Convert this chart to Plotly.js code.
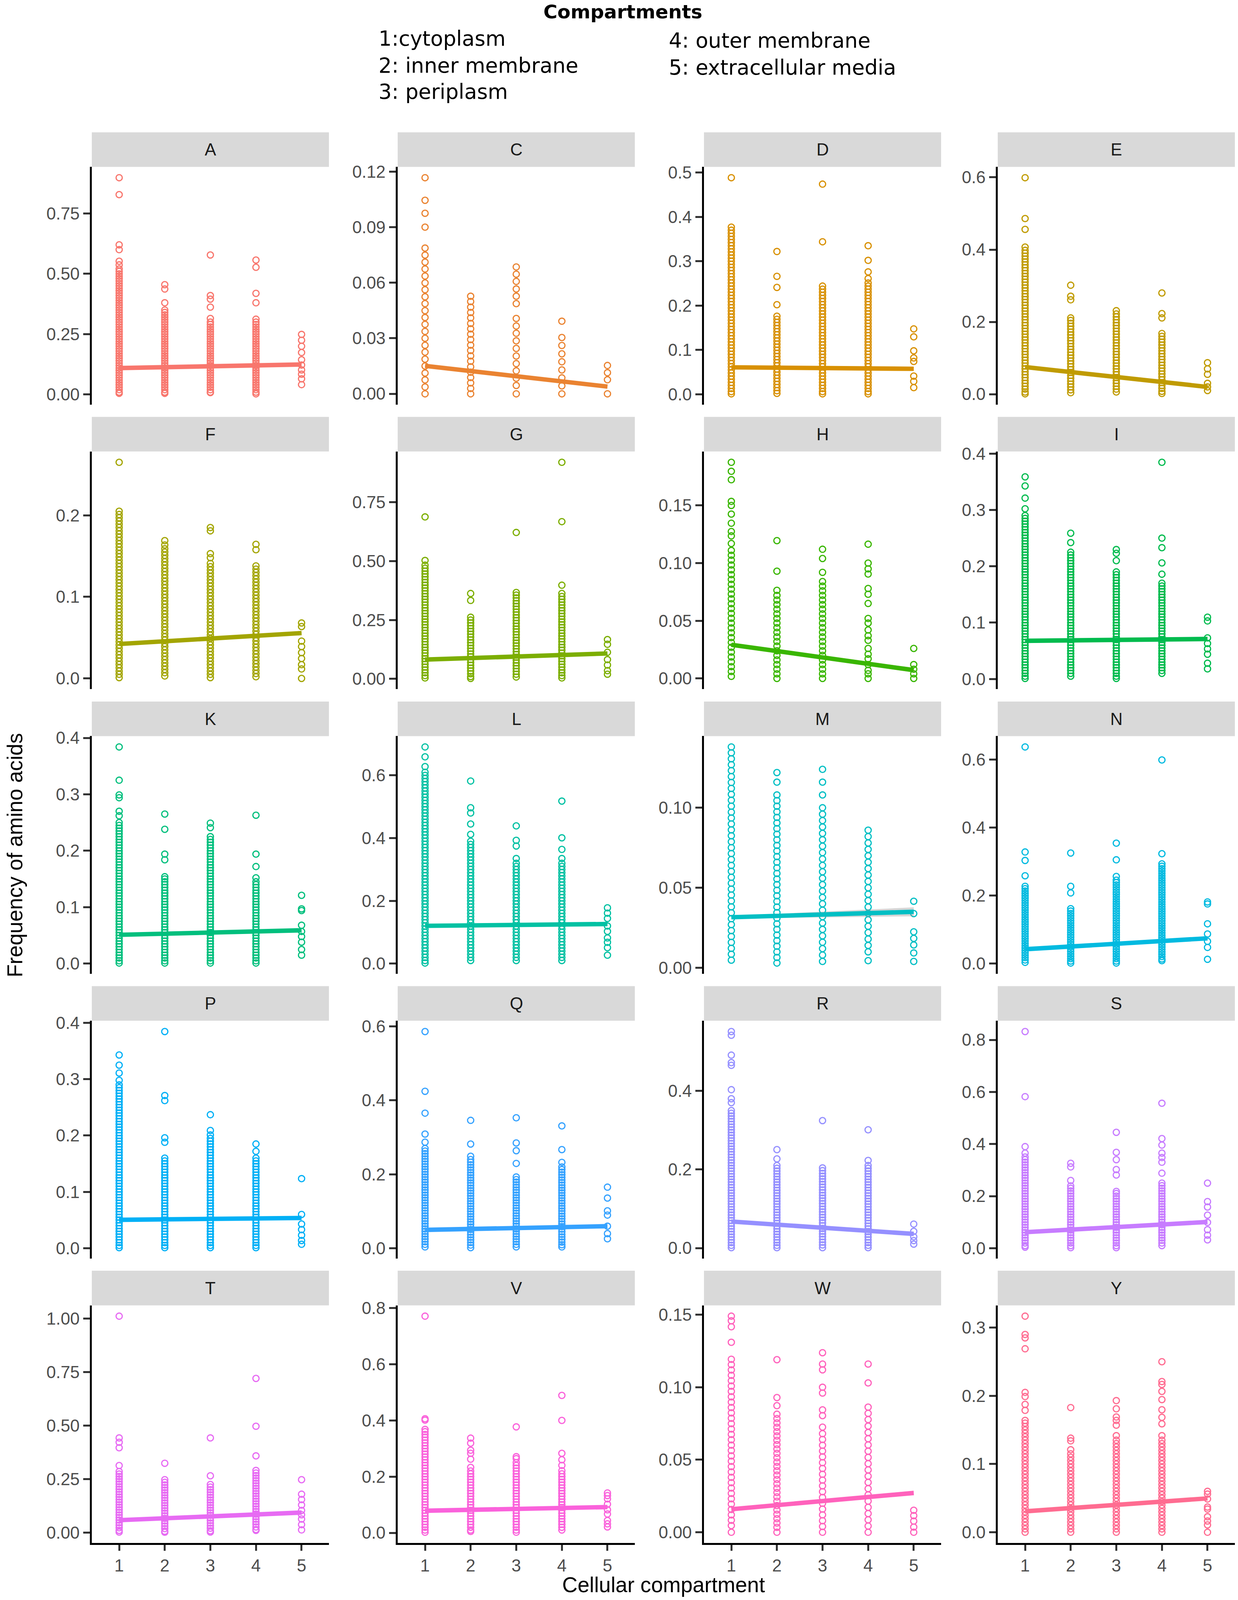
<!DOCTYPE html>
<html>
<head>
<meta charset="utf-8">
<script src="https://cdn.plot.ly/plotly-3.0.1.min.js"></script>
<style>html,body{margin:0;padding:0;background:#fff;overflow:hidden;}</style>
</head>
<body>
<div id="chart"></div>
<script>
// ---------- DATA ----------
const aminoAcids = ["A","C","D","E","F","G","H","I","K","L","M","N","P","Q","R","S","T","V","W","Y"];
const compartments = [1,2,3,4,5];
const xTickLabels = ["1","2","3","4","5"];
const legendTitle = "Compartments";
const legendItems = ["1:cytoplasm","2: inner membrane","3: periplasm","4: outer membrane","5: extracellular media"];
const xTitle = "Cellular compartment";
const yTitle = "Frequency of amino acids";

// frequency values per compartment (columns 1..5) for each amino acid
const aaA = [
  [0.898,0.828,0.62,0.60,0.552,0.537,0.52,0.51,0.50,0.49,0.48,0.47,0.46,0.45,0.44,0.43,0.42,0.41,0.40,0.39,0.38,0.37,0.36,0.35,0.34,0.33,0.32,0.31,0.30,0.29,0.28,0.27,0.26,0.25,0.24,0.23,0.22,0.21,0.20,0.19,0.18,0.17,0.16,0.15,0.14,0.13,0.12,0.11,0.10,0.09,0.08,0.07,0.06,0.05,0.04,0.03,0.02,0.01,0.005],
  [0.455,0.437,0.38,0.35,0.34,0.33,0.32,0.31,0.30,0.29,0.28,0.27,0.26,0.25,0.24,0.23,0.22,0.21,0.20,0.19,0.18,0.17,0.16,0.15,0.14,0.13,0.12,0.11,0.10,0.09,0.08,0.07,0.06,0.05,0.04,0.03,0.02,0.01,0.005],
  [0.578,0.41,0.395,0.362,0.315,0.30,0.29,0.28,0.27,0.26,0.25,0.24,0.23,0.22,0.21,0.20,0.19,0.18,0.17,0.16,0.15,0.14,0.13,0.12,0.11,0.10,0.09,0.08,0.07,0.06,0.05,0.04,0.03,0.02,0.01,0.008],
  [0.557,0.527,0.419,0.38,0.312,0.30,0.29,0.28,0.27,0.26,0.25,0.24,0.23,0.22,0.21,0.20,0.19,0.18,0.17,0.16,0.15,0.14,0.13,0.12,0.11,0.10,0.09,0.08,0.07,0.06,0.05,0.04,0.03,0.02,0.01,0.003],
  [0.249,0.225,0.20,0.174,0.144,0.122,0.102,0.084,0.065,0.041]
];
const aaC = [
  [0.1167,0.1045,0.0975,0.090,0.0787,0.0749,0.0711,0.0674,0.0636,0.0599,0.0562,0.0524,0.0487,0.0449,0.0412,0.0375,0.0337,0.0300,0.0262,0.0225,0.0187,0.0150,0.0112,0.0075,0.0037,0],
  [0.0527,0.0498,0.0468,0.0439,0.0410,0.0380,0.0351,0.0322,0.0293,0.0263,0.0234,0.0205,0.0176,0.0146,0.0117,0.0088,0.0059,0.0029,0],
  [0.0685,0.0646,0.0607,0.0566,0.0527,0.0487,0.0407,0.0366,0.0327,0.0286,0.0245,0.0204,0.0163,0.0124,0.0084,0.0045,0],
  [0.0392,0.0304,0.0261,0.0216,0.0173,0.0129,0.0086,0.0043,0],
  [0.0153,0.0114,0.0076,0]
];
const aaD = [
  [0.4885,0.377,0.370,0.363,0.356,0.349,0.342,0.335,0.328,0.321,0.314,0.307,0.300,0.293,0.286,0.279,0.272,0.265,0.258,0.251,0.244,0.237,0.230,0.223,0.216,0.209,0.202,0.195,0.188,0.181,0.174,0.167,0.160,0.153,0.146,0.139,0.132,0.125,0.118,0.111,0.104,0.097,0.090,0.083,0.076,0.069,0.062,0.055,0.048,0.041,0.034,0.027,0.020,0.013,0.006,0.001],
  [0.322,0.266,0.241,0.202,0.176,0.169,0.162,0.155,0.148,0.141,0.134,0.127,0.120,0.113,0.106,0.099,0.092,0.085,0.078,0.071,0.064,0.057,0.050,0.043,0.036,0.029,0.022,0.015,0.008,0.002],
  [0.474,0.344,0.244,0.237,0.230,0.223,0.216,0.209,0.202,0.195,0.188,0.181,0.174,0.167,0.160,0.153,0.146,0.139,0.132,0.125,0.118,0.111,0.104,0.097,0.090,0.083,0.076,0.069,0.062,0.055,0.048,0.041,0.034,0.027,0.020,0.013,0.006,0.001],
  [0.335,0.302,0.276,0.261,0.251,0.244,0.237,0.230,0.223,0.216,0.209,0.202,0.195,0.188,0.181,0.174,0.167,0.160,0.153,0.146,0.139,0.132,0.125,0.118,0.111,0.104,0.097,0.090,0.083,0.076,0.069,0.062,0.055,0.048,0.041,0.034,0.027,0.020,0.013,0.006,0.001],
  [0.1475,0.1295,0.098,0.082,0.074,0.041,0.029,0.015]
];
const aaE = [
  [0.599,0.486,0.456,0.407,0.398,0.390,0.382,0.374,0.366,0.358,0.350,0.342,0.334,0.326,0.318,0.310,0.302,0.294,0.286,0.278,0.270,0.262,0.254,0.246,0.238,0.230,0.222,0.214,0.206,0.198,0.190,0.182,0.174,0.166,0.158,0.150,0.142,0.134,0.126,0.118,0.110,0.102,0.094,0.086,0.078,0.070,0.062,0.054,0.046,0.038,0.030,0.022,0.014,0.006,0.001],
  [0.3015,0.271,0.261,0.211,0.204,0.196,0.188,0.180,0.172,0.164,0.156,0.148,0.140,0.132,0.124,0.116,0.108,0.100,0.092,0.084,0.076,0.068,0.060,0.052,0.044,0.036,0.028,0.020,0.012,0.004],
  [0.231,0.222,0.214,0.206,0.198,0.190,0.182,0.174,0.166,0.158,0.150,0.142,0.134,0.126,0.118,0.110,0.102,0.094,0.086,0.078,0.070,0.062,0.054,0.046,0.038,0.030,0.022,0.014,0.006],
  [0.280,0.223,0.211,0.168,0.160,0.152,0.144,0.136,0.128,0.120,0.112,0.104,0.096,0.088,0.080,0.072,0.064,0.056,0.048,0.040,0.032,0.024,0.016,0.008,0.002],
  [0.087,0.070,0.055,0.030,0.020,0.010]
];
const aaF = [
  [0.265,0.205,0.201,0.197,0.193,0.189,0.185,0.181,0.177,0.173,0.169,0.165,0.161,0.157,0.153,0.149,0.145,0.141,0.137,0.133,0.129,0.125,0.121,0.117,0.113,0.109,0.105,0.101,0.097,0.093,0.089,0.085,0.081,0.077,0.073,0.069,0.065,0.061,0.057,0.053,0.049,0.045,0.041,0.037,0.033,0.029,0.025,0.021,0.017,0.013,0.009,0.005,0.001],
  [0.169,0.1636,0.159,0.155,0.151,0.147,0.143,0.139,0.135,0.131,0.127,0.123,0.119,0.115,0.111,0.107,0.103,0.099,0.095,0.091,0.087,0.083,0.079,0.075,0.071,0.067,0.063,0.059,0.055,0.051,0.047,0.043,0.039,0.035,0.031,0.027,0.023,0.019,0.015,0.011,0.007,0.003],
  [0.185,0.181,0.153,0.148,0.141,0.137,0.133,0.129,0.125,0.121,0.117,0.113,0.109,0.105,0.101,0.097,0.093,0.089,0.085,0.081,0.077,0.073,0.069,0.065,0.061,0.057,0.053,0.049,0.045,0.041,0.037,0.033,0.029,0.025,0.021,0.017,0.013,0.009,0.005,0.001],
  [0.1644,0.1578,0.138,0.134,0.130,0.126,0.122,0.118,0.114,0.110,0.106,0.102,0.098,0.094,0.090,0.086,0.082,0.078,0.074,0.070,0.066,0.062,0.058,0.054,0.050,0.046,0.042,0.038,0.034,0.030,0.026,0.022,0.018,0.014,0.010,0.006,0.002],
  [0.068,0.0636,0.0458,0.039,0.0316,0.0244,0.0169,0.0116,0]
];
const aaG = [
  [0.688,0.503,0.483,0.470,0.458,0.446,0.434,0.422,0.410,0.398,0.386,0.374,0.362,0.350,0.338,0.326,0.314,0.302,0.290,0.278,0.266,0.254,0.242,0.230,0.218,0.206,0.194,0.182,0.170,0.158,0.146,0.134,0.122,0.110,0.098,0.086,0.074,0.062,0.050,0.038,0.026,0.014,0.004],
  [0.3627,0.3333,0.262,0.250,0.238,0.226,0.214,0.202,0.190,0.178,0.166,0.154,0.142,0.130,0.118,0.106,0.094,0.082,0.070,0.058,0.046,0.034,0.022,0.010,0.002],
  [0.622,0.367,0.356,0.344,0.332,0.320,0.308,0.296,0.284,0.272,0.260,0.248,0.236,0.224,0.212,0.200,0.188,0.176,0.164,0.152,0.140,0.128,0.116,0.104,0.092,0.080,0.068,0.056,0.044,0.032,0.020,0.008],
  [0.92,0.668,0.398,0.363,0.350,0.338,0.326,0.314,0.302,0.290,0.278,0.266,0.254,0.242,0.230,0.218,0.206,0.194,0.182,0.170,0.158,0.146,0.134,0.122,0.110,0.098,0.086,0.074,0.062,0.050,0.038,0.026,0.014,0.004],
  [0.167,0.147,0.113,0.082,0.059,0.035,0.02]
];
const aaH = [
  [0.1874,0.1796,0.1723,0.1535,0.150,0.1425,0.1346,0.1274,0.1236,0.117,0.111,0.1068,0.1026,0.0984,0.0942,0.09,0.0858,0.0816,0.0774,0.0732,0.069,0.0648,0.0606,0.0564,0.0522,0.048,0.0438,0.0396,0.0354,0.0312,0.027,0.0228,0.0186,0.0144,0.0102,0.006,0.0018],
  [0.1195,0.093,0.0764,0.072,0.068,0.064,0.060,0.056,0.052,0.048,0.044,0.040,0.036,0.032,0.028,0.024,0.020,0.016,0.012,0.008,0.004,0],
  [0.112,0.104,0.092,0.084,0.080,0.076,0.072,0.068,0.064,0.060,0.056,0.052,0.048,0.044,0.040,0.036,0.032,0.028,0.024,0.020,0.016,0.012,0.008,0.004,0],
  [0.1164,0.100,0.095,0.0905,0.078,0.073,0.065,0.052,0.048,0.042,0.037,0.033,0.026,0.021,0.017,0.012,0.007,0.004,0],
  [0.026,0.012,0.008,0.004,0]
];
const aaI = [
  [0.3587,0.3426,0.321,0.302,0.290,0.285,0.280,0.275,0.270,0.265,0.260,0.255,0.250,0.245,0.240,0.235,0.230,0.225,0.220,0.215,0.210,0.205,0.200,0.195,0.190,0.185,0.180,0.175,0.170,0.165,0.160,0.155,0.150,0.145,0.140,0.135,0.130,0.125,0.120,0.115,0.110,0.105,0.100,0.095,0.090,0.085,0.080,0.075,0.070,0.065,0.060,0.055,0.050,0.045,0.040,0.035,0.030,0.025,0.020,0.015,0.010,0.005,0.001],
  [0.2587,0.242,0.225,0.220,0.215,0.210,0.205,0.200,0.195,0.190,0.185,0.180,0.175,0.170,0.165,0.160,0.155,0.150,0.145,0.140,0.135,0.130,0.125,0.120,0.115,0.110,0.105,0.100,0.095,0.090,0.085,0.080,0.075,0.070,0.065,0.060,0.055,0.050,0.045,0.040,0.035,0.030,0.025,0.020,0.015,0.010,0.005],
  [0.2297,0.223,0.210,0.190,0.185,0.180,0.175,0.170,0.165,0.160,0.155,0.150,0.145,0.140,0.135,0.130,0.125,0.120,0.115,0.110,0.105,0.100,0.095,0.090,0.085,0.080,0.075,0.070,0.065,0.060,0.055,0.050,0.045,0.040,0.035,0.030,0.025,0.020,0.015,0.010,0.005,0.001],
  [0.3845,0.250,0.233,0.206,0.186,0.170,0.165,0.160,0.155,0.150,0.145,0.140,0.135,0.130,0.125,0.120,0.115,0.110,0.105,0.100,0.095,0.090,0.085,0.080,0.075,0.070,0.065,0.060,0.055,0.050,0.045,0.040,0.035,0.030,0.025,0.020,0.015,0.010],
  [0.1097,0.103,0.073,0.063,0.0535,0.044,0.028,0.018]
];
const aaK = [
  [0.384,0.325,0.299,0.294,0.270,0.262,0.250,0.245,0.240,0.235,0.230,0.225,0.220,0.215,0.210,0.205,0.200,0.195,0.190,0.185,0.180,0.175,0.170,0.165,0.160,0.155,0.150,0.145,0.140,0.135,0.130,0.125,0.120,0.115,0.110,0.105,0.100,0.095,0.090,0.085,0.080,0.075,0.070,0.065,0.060,0.055,0.050,0.045,0.040,0.035,0.030,0.025,0.020,0.015,0.010,0.005,0.001],
  [0.265,0.238,0.194,0.184,0.154,0.150,0.145,0.140,0.135,0.130,0.125,0.120,0.115,0.110,0.105,0.100,0.095,0.090,0.085,0.080,0.075,0.070,0.065,0.060,0.055,0.050,0.045,0.040,0.035,0.030,0.025,0.020,0.015,0.010,0.005,0.001],
  [0.249,0.241,0.225,0.220,0.215,0.210,0.205,0.200,0.195,0.190,0.185,0.180,0.175,0.170,0.165,0.160,0.155,0.150,0.145,0.140,0.135,0.130,0.125,0.120,0.115,0.110,0.105,0.100,0.095,0.090,0.085,0.080,0.075,0.070,0.065,0.060,0.055,0.050,0.045,0.040,0.035,0.030,0.025,0.020,0.015,0.010,0.005,0.001],
  [0.263,0.194,0.172,0.152,0.145,0.140,0.135,0.130,0.125,0.120,0.115,0.110,0.105,0.100,0.095,0.090,0.085,0.080,0.075,0.070,0.065,0.060,0.055,0.050,0.045,0.040,0.035,0.030,0.025,0.020,0.015,0.010,0.005,0.001],
  [0.121,0.097,0.094,0.068,0.057,0.048,0.038,0.025,0.015]
];
const aaL = [
  [0.6906,0.659,0.628,0.61,0.60,0.59,0.58,0.57,0.56,0.55,0.54,0.53,0.52,0.51,0.50,0.49,0.48,0.47,0.46,0.45,0.44,0.43,0.42,0.41,0.40,0.39,0.38,0.37,0.36,0.35,0.34,0.33,0.32,0.31,0.30,0.29,0.28,0.27,0.26,0.25,0.24,0.23,0.22,0.21,0.20,0.19,0.18,0.17,0.16,0.15,0.14,0.13,0.12,0.11,0.10,0.09,0.08,0.07,0.06,0.05,0.04,0.03,0.02,0.01,0.002],
  [0.582,0.497,0.480,0.445,0.412,0.39,0.38,0.37,0.36,0.35,0.34,0.33,0.32,0.31,0.30,0.29,0.28,0.27,0.26,0.25,0.24,0.23,0.22,0.21,0.20,0.19,0.18,0.17,0.16,0.15,0.14,0.13,0.12,0.11,0.10,0.09,0.08,0.07,0.06,0.05,0.04,0.03,0.02,0.01],
  [0.439,0.393,0.375,0.335,0.32,0.31,0.30,0.29,0.28,0.27,0.26,0.25,0.24,0.23,0.22,0.21,0.20,0.19,0.18,0.17,0.16,0.15,0.14,0.13,0.12,0.11,0.10,0.09,0.08,0.07,0.06,0.05,0.04,0.03,0.02,0.01],
  [0.518,0.401,0.364,0.335,0.32,0.31,0.30,0.29,0.28,0.27,0.26,0.25,0.24,0.23,0.22,0.21,0.20,0.19,0.18,0.17,0.16,0.15,0.14,0.13,0.12,0.11,0.10,0.09,0.08,0.07,0.06,0.05,0.04,0.03,0.02,0.01],
  [0.178,0.161,0.144,0.120,0.103,0.082,0.068,0.051,0.027]
];
const aaM = [
  [0.138,0.1343,0.1306,0.1269,0.1232,0.1195,0.1158,0.1121,0.1084,0.1047,0.101,0.0973,0.0936,0.0899,0.0862,0.0825,0.0788,0.0751,0.0714,0.0677,0.064,0.0603,0.0566,0.0529,0.0492,0.0455,0.0418,0.0381,0.0344,0.0307,0.027,0.0233,0.0196,0.0159,0.0122,0.0085,0.0048],
  [0.122,0.116,0.108,0.1045,0.101,0.0975,0.094,0.0905,0.087,0.0835,0.080,0.0765,0.073,0.0695,0.066,0.0625,0.059,0.0555,0.052,0.0485,0.045,0.0415,0.038,0.0345,0.031,0.0275,0.024,0.0205,0.017,0.0135,0.010,0.0065,0.003],
  [0.124,0.116,0.108,0.100,0.096,0.092,0.088,0.084,0.080,0.076,0.072,0.068,0.064,0.060,0.056,0.052,0.048,0.044,0.040,0.036,0.032,0.028,0.024,0.020,0.016,0.012,0.008,0.004],
  [0.086,0.082,0.078,0.074,0.070,0.066,0.062,0.058,0.054,0.050,0.046,0.042,0.038,0.034,0.030,0.026,0.022,0.018,0.014,0.010,0.0045],
  [0.0416,0.0339,0.0225,0.0184,0.0143,0.0093,0.004]
];
const aaN = [
  [0.6374,0.328,0.303,0.258,0.227,0.220,0.213,0.206,0.199,0.192,0.185,0.178,0.171,0.164,0.157,0.150,0.143,0.136,0.129,0.122,0.115,0.108,0.101,0.094,0.087,0.080,0.073,0.066,0.059,0.052,0.045,0.038,0.031,0.024,0.017,0.010,0.003],
  [0.325,0.227,0.2075,0.161,0.154,0.147,0.140,0.133,0.126,0.119,0.112,0.105,0.098,0.091,0.084,0.077,0.070,0.063,0.056,0.049,0.042,0.035,0.028,0.021,0.014,0.007,0.001],
  [0.354,0.305,0.256,0.245,0.238,0.231,0.224,0.217,0.210,0.203,0.196,0.189,0.182,0.175,0.168,0.161,0.154,0.147,0.140,0.133,0.126,0.119,0.112,0.105,0.098,0.091,0.084,0.077,0.070,0.063,0.056,0.049,0.042,0.035,0.028,0.021,0.014,0.007,0.001],
  [0.599,0.323,0.293,0.286,0.279,0.272,0.265,0.258,0.251,0.244,0.237,0.230,0.223,0.216,0.209,0.202,0.195,0.188,0.181,0.174,0.167,0.160,0.153,0.146,0.139,0.132,0.125,0.118,0.111,0.104,0.097,0.090,0.083,0.076,0.069,0.062,0.055,0.048,0.041,0.034,0.027,0.020,0.013,0.008],
  [0.181,0.175,0.1166,0.0866,0.065,0.047,0.012]
];
const aaP = [
  [0.343,0.325,0.311,0.298,0.290,0.285,0.280,0.275,0.270,0.265,0.260,0.255,0.250,0.245,0.240,0.235,0.230,0.225,0.220,0.215,0.210,0.205,0.200,0.195,0.190,0.185,0.180,0.175,0.170,0.165,0.160,0.155,0.150,0.145,0.140,0.135,0.130,0.125,0.120,0.115,0.110,0.105,0.100,0.095,0.090,0.085,0.080,0.075,0.070,0.065,0.060,0.055,0.050,0.045,0.040,0.035,0.030,0.025,0.020,0.015,0.010,0.005,0.001],
  [0.3846,0.271,0.262,0.196,0.188,0.160,0.155,0.150,0.145,0.140,0.135,0.130,0.125,0.120,0.115,0.110,0.105,0.100,0.095,0.090,0.085,0.080,0.075,0.070,0.065,0.060,0.055,0.050,0.045,0.040,0.035,0.030,0.025,0.020,0.015,0.010,0.005,0.001],
  [0.237,0.209,0.201,0.195,0.190,0.185,0.180,0.175,0.170,0.165,0.160,0.155,0.150,0.145,0.140,0.135,0.130,0.125,0.120,0.115,0.110,0.105,0.100,0.095,0.090,0.085,0.080,0.075,0.070,0.065,0.060,0.055,0.050,0.045,0.040,0.035,0.030,0.025,0.020,0.015,0.010,0.005,0.001],
  [0.185,0.172,0.160,0.155,0.150,0.145,0.140,0.135,0.130,0.125,0.120,0.115,0.110,0.105,0.100,0.095,0.090,0.085,0.080,0.075,0.070,0.065,0.060,0.055,0.050,0.045,0.040,0.035,0.030,0.025,0.020,0.015,0.010,0.005,0.001],
  [0.1235,0.060,0.043,0.033,0.023,0.0136,0.007]
];
const aaQ = [
  [0.586,0.4246,0.3655,0.309,0.287,0.270,0.263,0.256,0.249,0.242,0.235,0.228,0.221,0.214,0.207,0.200,0.193,0.186,0.179,0.172,0.165,0.158,0.151,0.144,0.137,0.130,0.123,0.116,0.109,0.102,0.095,0.088,0.081,0.074,0.067,0.060,0.053,0.046,0.039,0.032,0.025,0.018,0.011,0.004],
  [0.346,0.282,0.249,0.240,0.233,0.226,0.219,0.212,0.205,0.198,0.191,0.184,0.177,0.170,0.163,0.156,0.149,0.142,0.135,0.128,0.121,0.114,0.107,0.100,0.093,0.086,0.079,0.072,0.065,0.058,0.051,0.044,0.037,0.030,0.023,0.016,0.009,0.002],
  [0.353,0.285,0.264,0.2296,0.193,0.186,0.179,0.172,0.165,0.158,0.151,0.144,0.137,0.130,0.123,0.116,0.109,0.102,0.095,0.088,0.081,0.074,0.067,0.060,0.053,0.046,0.039,0.032,0.025,0.018,0.011,0.004],
  [0.331,0.267,0.2325,0.220,0.213,0.206,0.199,0.192,0.185,0.178,0.171,0.164,0.157,0.150,0.143,0.136,0.129,0.122,0.115,0.108,0.101,0.094,0.087,0.080,0.073,0.066,0.059,0.052,0.045,0.038,0.031,0.024,0.017,0.010,0.004],
  [0.1655,0.136,0.1015,0.090,0.060,0.040,0.026]
];
const aaR = [
  [0.551,0.5416,0.491,0.472,0.465,0.403,0.380,0.370,0.350,0.343,0.336,0.329,0.322,0.315,0.308,0.301,0.294,0.287,0.280,0.273,0.266,0.259,0.252,0.245,0.238,0.231,0.224,0.217,0.210,0.203,0.196,0.189,0.182,0.175,0.168,0.161,0.154,0.147,0.140,0.133,0.126,0.119,0.112,0.105,0.098,0.091,0.084,0.077,0.070,0.063,0.056,0.049,0.042,0.035,0.028,0.021,0.014,0.007,0.001],
  [0.2505,0.227,0.210,0.203,0.196,0.189,0.182,0.175,0.168,0.161,0.154,0.147,0.140,0.133,0.126,0.119,0.112,0.105,0.098,0.091,0.084,0.077,0.070,0.063,0.056,0.049,0.042,0.035,0.028,0.021,0.014,0.007,0.001],
  [0.3244,0.204,0.197,0.190,0.183,0.176,0.169,0.162,0.155,0.148,0.141,0.134,0.127,0.120,0.113,0.106,0.099,0.092,0.085,0.078,0.071,0.064,0.057,0.050,0.043,0.036,0.029,0.022,0.015,0.008,0.001],
  [0.301,0.223,0.210,0.203,0.196,0.189,0.182,0.175,0.168,0.161,0.154,0.147,0.140,0.133,0.126,0.119,0.112,0.105,0.098,0.091,0.084,0.077,0.070,0.063,0.056,0.049,0.042,0.035,0.028,0.021,0.014,0.007,0.001],
  [0.061,0.0425,0.0287,0.019,0.010]
];
const aaS = [
  [0.832,0.582,0.390,0.365,0.35,0.34,0.33,0.32,0.31,0.30,0.29,0.28,0.27,0.26,0.25,0.24,0.23,0.22,0.21,0.20,0.19,0.18,0.17,0.16,0.15,0.14,0.13,0.12,0.11,0.10,0.09,0.08,0.07,0.06,0.05,0.04,0.03,0.02,0.01,0.004],
  [0.326,0.312,0.260,0.239,0.23,0.22,0.21,0.20,0.19,0.18,0.17,0.16,0.15,0.14,0.13,0.12,0.11,0.10,0.09,0.08,0.07,0.06,0.05,0.04,0.03,0.02,0.01,0.002],
  [0.445,0.368,0.340,0.302,0.281,0.218,0.21,0.20,0.19,0.18,0.17,0.16,0.15,0.14,0.13,0.12,0.11,0.10,0.09,0.08,0.07,0.06,0.05,0.04,0.03,0.02,0.01,0.002],
  [0.5566,0.421,0.396,0.365,0.348,0.330,0.288,0.25,0.24,0.23,0.22,0.21,0.20,0.19,0.18,0.17,0.16,0.15,0.14,0.13,0.12,0.11,0.10,0.09,0.08,0.07,0.06,0.05,0.04,0.03,0.02,0.01],
  [0.250,0.179,0.158,0.127,0.099,0.071,0.050,0.032]
];
const aaT = [
  [1.011,0.442,0.4216,0.396,0.313,0.285,0.273,0.262,0.250,0.238,0.226,0.214,0.202,0.190,0.178,0.166,0.154,0.142,0.130,0.118,0.106,0.094,0.082,0.070,0.058,0.046,0.034,0.022,0.010,0.002],
  [0.3236,0.2467,0.2345,0.222,0.210,0.198,0.186,0.174,0.162,0.150,0.138,0.126,0.114,0.102,0.090,0.078,0.066,0.054,0.042,0.030,0.018,0.006,0.001],
  [0.442,0.265,0.2245,0.212,0.200,0.188,0.176,0.164,0.152,0.140,0.128,0.116,0.104,0.092,0.080,0.068,0.056,0.044,0.032,0.020,0.008,0.002],
  [0.720,0.4965,0.358,0.290,0.278,0.266,0.254,0.242,0.230,0.218,0.206,0.194,0.182,0.170,0.158,0.146,0.134,0.122,0.110,0.098,0.086,0.074,0.062,0.050,0.038,0.026,0.014,0.010],
  [0.2467,0.179,0.154,0.1284,0.103,0.083,0.063,0.037,0.012]
];
const aaV = [
  [0.771,0.406,0.401,0.368,0.36,0.35,0.34,0.33,0.32,0.31,0.30,0.29,0.28,0.27,0.26,0.25,0.24,0.23,0.22,0.21,0.20,0.19,0.18,0.17,0.16,0.15,0.14,0.13,0.12,0.11,0.10,0.09,0.08,0.07,0.06,0.05,0.04,0.03,0.02,0.01,0.002],
  [0.337,0.319,0.294,0.283,0.262,0.233,0.22,0.21,0.20,0.19,0.18,0.17,0.16,0.15,0.14,0.13,0.12,0.11,0.10,0.09,0.08,0.07,0.06,0.05,0.04,0.03,0.02,0.01,0.005],
  [0.377,0.271,0.264,0.25,0.24,0.23,0.22,0.21,0.20,0.19,0.18,0.17,0.16,0.15,0.14,0.13,0.12,0.11,0.10,0.09,0.08,0.07,0.06,0.05,0.04,0.03,0.02,0.01,0.002],
  [0.489,0.400,0.283,0.260,0.240,0.221,0.21,0.20,0.19,0.18,0.17,0.16,0.15,0.14,0.13,0.12,0.11,0.10,0.09,0.08,0.07,0.06,0.05,0.04,0.03,0.02,0.01],
  [0.142,0.1326,0.121,0.102,0.082,0.067,0.044,0.032,0.021]
];
const aaW = [
  [0.149,0.1458,0.1417,0.131,0.1193,0.1156,0.1119,0.1082,0.1045,0.1008,0.0971,0.0934,0.0897,0.086,0.0823,0.0786,0.0749,0.0712,0.0675,0.0638,0.0601,0.0564,0.0527,0.049,0.0453,0.0416,0.0379,0.0342,0.0305,0.0268,0.0231,0.0194,0.0157,0.012,0.0083,0.0046,0],
  [0.119,0.0929,0.0873,0.0814,0.0784,0.0754,0.0724,0.0694,0.0664,0.0634,0.0604,0.0574,0.0544,0.0514,0.0484,0.0454,0.0424,0.0394,0.0364,0.0334,0.0304,0.0274,0.0244,0.0214,0.0184,0.0154,0.0124,0.0094,0.0064,0.0034,0],
  [0.1238,0.116,0.112,0.100,0.096,0.0844,0.0804,0.0725,0.068,0.064,0.060,0.056,0.052,0.048,0.044,0.040,0.036,0.032,0.028,0.024,0.020,0.016,0.012,0.008,0.004,0],
  [0.116,0.103,0.0863,0.082,0.0777,0.0732,0.0688,0.0645,0.0602,0.0559,0.0516,0.0473,0.043,0.0387,0.0344,0.0301,0.0258,0.0215,0.0172,0.0129,0.0086,0.0043,0],
  [0.0152,0.0115,0.0077,0.0036,0]
];
const aaY = [
  [0.3168,0.290,0.285,0.269,0.205,0.199,0.1875,0.1787,0.164,0.160,0.155,0.150,0.145,0.140,0.135,0.130,0.125,0.120,0.115,0.110,0.105,0.100,0.095,0.090,0.085,0.080,0.075,0.070,0.065,0.060,0.055,0.050,0.045,0.040,0.035,0.030,0.025,0.020,0.015,0.010,0.005,0],
  [0.1828,0.138,0.134,0.121,0.115,0.110,0.105,0.100,0.095,0.090,0.085,0.080,0.075,0.070,0.065,0.060,0.055,0.050,0.045,0.040,0.035,0.030,0.025,0.020,0.015,0.010,0.005,0],
  [0.193,0.181,0.169,0.164,0.157,0.1416,0.135,0.130,0.125,0.120,0.115,0.110,0.105,0.100,0.095,0.090,0.085,0.080,0.075,0.070,0.065,0.060,0.055,0.050,0.045,0.040,0.035,0.030,0.025,0.020,0.015,0.010,0.005,0],
  [0.250,0.221,0.2167,0.2065,0.1945,0.1796,0.1685,0.159,0.1416,0.135,0.130,0.125,0.120,0.115,0.110,0.105,0.100,0.095,0.090,0.085,0.080,0.075,0.070,0.065,0.060,0.055,0.050,0.045,0.040,0.035,0.030,0.025,0.020,0.015,0.010,0.005,0],
  [0.060,0.056,0.0488,0.037,0.034,0.0228,0.0165,0.0108,0]
];

// linear fit values at compartment 1 and compartment 5
const fitStart = [0.1095,0.0151,0.0607,0.075,0.0422,0.082,0.0292,0.0677,0.051,0.1205,0.0316,0.0417,0.0504,0.050,0.0675,0.0615,0.0576,0.0786,0.0159,0.0307];
const fitEnd   = [0.1245,0.0039,0.0574,0.020,0.0556,0.108,0.0072,0.071,0.059,0.1263,0.035,0.0738,0.0537,0.060,0.036,0.1007,0.093,0.0917,0.0271,0.0497];
// half-width of the fit's confidence band at compartment 1 and compartment 5
const bandStart = [0.002,0.0005,0.001,0.002,0.001,0.002,0.0008,0.001,0.001,0.002,0.0008,0.002,0.001,0.002,0.002,0.003,0.003,0.002,0.0006,0.001];
const bandEnd   = [0.004,0.001,0.003,0.004,0.002,0.006,0.002,0.003,0.002,0.006,0.0028,0.004,0.002,0.003,0.003,0.006,0.006,0.005,0.0015,0.002];

// y tick labels per panel
const yTickLabels = [
  ["0.00","0.25","0.50","0.75"],
  ["0.00","0.03","0.06","0.09","0.12"],
  ["0.0","0.1","0.2","0.3","0.4","0.5"],
  ["0.0","0.2","0.4","0.6"],
  ["0.0","0.1","0.2"],
  ["0.00","0.25","0.50","0.75"],
  ["0.00","0.05","0.10","0.15"],
  ["0.0","0.1","0.2","0.3","0.4"],
  ["0.0","0.1","0.2","0.3","0.4"],
  ["0.0","0.2","0.4","0.6"],
  ["0.00","0.05","0.10"],
  ["0.0","0.2","0.4","0.6"],
  ["0.0","0.1","0.2","0.3","0.4"],
  ["0.0","0.2","0.4","0.6"],
  ["0.0","0.2","0.4"],
  ["0.0","0.2","0.4","0.6","0.8"],
  ["0.00","0.25","0.50","0.75","1.00"],
  ["0.0","0.2","0.4","0.6","0.8"],
  ["0.00","0.05","0.10","0.15"],
  ["0.0","0.1","0.2","0.3"]
];

const panelValues = [aaA,aaC,aaD,aaE,aaF,aaG,aaH,aaI,aaK,aaL,aaM,aaN,aaP,aaQ,aaR,aaS,aaT,aaV,aaW,aaY];

// ---------- STYLE / LAYOUT ----------
const colors = ["#F8766D","#EA8331","#D89000","#C09B00","#A3A500","#7CAE00","#39B600","#00BB4E","#00BF7D","#00C1A3",
                "#00BFC4","#00BAE0","#00B0F6","#35A2FF","#9590FF","#C77CFF","#E76BF3","#FA62DB","#FF62BC","#FF6C91"];
// geometry measured on the 3169 x 4947 reference, rescaled to the actual viewport
const REF_W = 3169, REF_H = 4947;
const W = window.innerWidth || REF_W;
const H = window.innerHeight || REF_H;
const sx = W / REF_W, sy = H / REF_H;
const ms = Math.sqrt(sx * sy);   // marks
const ts = sy;                   // text
document.getElementById("chart").style.width = W + "px";
document.getElementById("chart").style.height = H + "px";

const colLeft = [235, 1018, 1802, 2554];
const panelW = 607;
const stripTops = [409, 1289, 2169, 3049, 3929];
const stripH = 107;
const panelH = 842;
const sansFam = "Liberation Sans, Arial, Helvetica, sans-serif";
const tickFont = {family: sansFam, size: 53 * ts, color: "#4D4D4D"};

const traces = [];
const layout = {
  width: W, height: H,
  margin: {l: 0, r: 0, t: 0, b: 0},
  paper_bgcolor: "#FFFFFF", plot_bgcolor: "rgba(0,0,0,0)",
  showlegend: false,
  shapes: [], annotations: []
};

aminoAcids.forEach((aa, i) => {
  const row = Math.floor(i / 4), col = i % 4;
  const n = i + 1;
  const xk = n === 1 ? "xaxis" : "xaxis" + n;
  const yk = n === 1 ? "yaxis" : "yaxis" + n;
  const xr = n === 1 ? "x" : "x" + n;
  const yr = n === 1 ? "y" : "y" + n;
  const vals = panelValues[i];
  const xs = [], ys = [];
  vals.forEach((colVals, k) => colVals.forEach(v => { xs.push(compartments[k]); ys.push(v); }));
  const allY = ys.concat([fitStart[i], fitEnd[i]]);
  const ymin = Math.min(...allY), ymax = Math.max(...allY);
  const pad = 0.05 * (ymax - ymin);

  const left = colLeft[col], top = stripTops[row];
  const x0 = left / REF_W, x1 = (left + panelW) / REF_W;
  const yTop = 1 - (top + stripH) / REF_H, yBot = 1 - (top + panelH) / REF_H;
  const isBottom = row === 4;

  layout[xk] = {
    domain: [x0, x1], range: [0.4, 5.6], anchor: yr,
    showgrid: false, zeroline: false,
    showline: isBottom, linecolor: "#000000", linewidth: 5.7 * ms,
    ticks: isBottom ? "outside" : "", ticklen: 18 * sy, tickwidth: 5.5 * ms, tickcolor: "#333333",
    tickvals: compartments, ticktext: xTickLabels,
    showticklabels: isBottom, tickfont: tickFont, fixedrange: true
  };
  layout[yk] = {
    domain: [yBot, yTop], range: [ymin - pad, ymax + pad], anchor: xr,
    showgrid: false, zeroline: false,
    showline: true, linecolor: "#000000", linewidth: 5.7 * ms,
    ticks: "outside", ticklen: 17 * sx, tickwidth: 5.5 * ms, tickcolor: "#333333",
    tickvals: yTickLabels[i].map(Number), ticktext: yTickLabels[i],
    tickfont: tickFont, fixedrange: true
  };

  traces.push({
    type: "scatter", mode: "markers", x: xs, y: ys, xaxis: xr, yaxis: yr,
    marker: {symbol: "circle-open", size: 17.5 * ms, color: colors[i], line: {width: 3.4 * ms, color: colors[i]}},
    hoverinfo: "skip"
  });
  traces.push({
    type: "scatter", mode: "lines", xaxis: xr, yaxis: yr,
    x: [compartments[0], compartments[4], compartments[4], compartments[0], compartments[0]],
    y: [fitStart[i] + bandStart[i], fitEnd[i] + bandEnd[i], fitEnd[i] - bandEnd[i], fitStart[i] - bandStart[i], fitStart[i] + bandStart[i]],
    fill: "toself", fillcolor: "rgba(153,153,153,0.4)", line: {width: 0}, hoverinfo: "skip"
  });
  traces.push({
    type: "scatter", mode: "lines", x: [compartments[0], compartments[4]], y: [fitStart[i], fitEnd[i]],
    xaxis: xr, yaxis: yr, line: {color: colors[i], width: 12.5 * ms}, hoverinfo: "skip"
  });

  layout.shapes.push({
    type: "rect", xref: "paper", yref: "paper", x0: x0, x1: x1,
    y0: 1 - (top + stripH) / REF_H, y1: 1 - top / REF_H,
    fillcolor: "#D9D9D9", line: {width: 0}, layer: "below"
  });
  layout.annotations.push({
    xref: "paper", yref: "paper", x: (x0 + x1) / 2, y: 1 - (top + stripH / 2) / REF_H,
    xanchor: "center", yanchor: "middle", showarrow: false, text: aa,
    font: {family: sansFam, size: 53 * ts, color: "#1A1A1A"}
  });
});

// axis titles
layout.annotations.push({
  xref: "paper", yref: "paper", x: 1698 / REF_W, y: 1 - 4900 / REF_H, xanchor: "center", yanchor: "middle",
  showarrow: false, text: xTitle, font: {family: sansFam, size: 66 * ts, color: "#000000"}
});
layout.annotations.push({
  xref: "paper", yref: "paper", x: 39 / REF_W, y: 1 - 2645 / REF_H, xanchor: "center", yanchor: "middle",
  showarrow: false, text: yTitle, textangle: -90,
  font: {family: sansFam, size: 66 * ts, color: "#000000"}
});

// compartment legend
const legFont = {family: "DejaVu Sans", size: 64 * ts, color: "#000000"};
layout.annotations.push({
  xref: "paper", yref: "paper", x: 1594 / REF_W, y: 1, xanchor: "center", yanchor: "top",
  showarrow: false, text: "<b>" + legendTitle + "</b>", font: {family: "DejaVu Sans", size: 59 * ts, color: "#000000"}
});
const legPos = [[967, 119], [967, 202], [967, 283], [1710, 125], [1710, 208]];
legendItems.forEach((t, k) => {
  layout.annotations.push({
    xref: "paper", yref: "paper", x: legPos[k][0] / REF_W, y: 1 - legPos[k][1] / REF_H,
    xanchor: "left", yanchor: "middle", showarrow: false, text: t, font: legFont
  });
});

Plotly.newPlot("chart", traces, layout, {staticPlot: true, displayModeBar: false});
</script>
</body>
</html>
